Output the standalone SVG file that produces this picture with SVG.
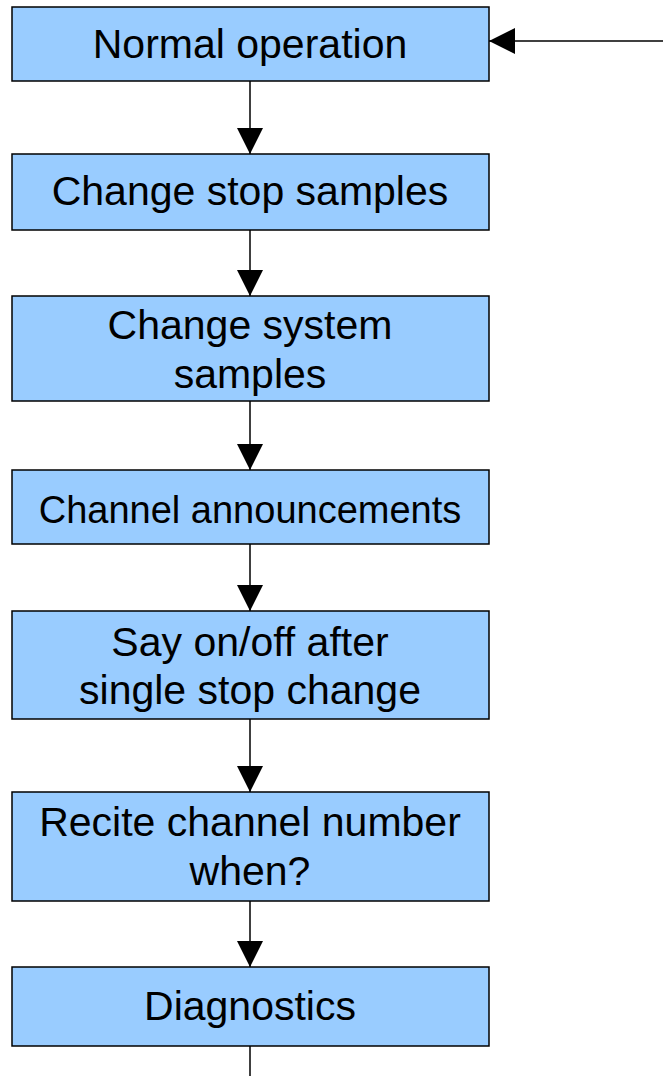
<svg xmlns="http://www.w3.org/2000/svg" width="663" height="1076" viewBox="0 0 663 1076">
<style>
.box{fill:#99ccff;stroke:#000;stroke-width:1.5}
.t{font-family:"Liberation Sans",Arial,sans-serif;font-size:41px;fill:#000;text-anchor:middle}
.c{stroke:#000;stroke-width:1.5;fill:none}
</style>
<defs>
<marker id="ah" viewBox="0 0 26 26" refX="26" refY="13" markerWidth="26" markerHeight="26" markerUnits="userSpaceOnUse" orient="auto">
<path d="M0,0 L26,13 L0,26 Z" fill="#000"/>
</marker>
</defs>
<rect width="663" height="1076" fill="#fff"/>
<g id="connectors">
<line class="c" x1="663" y1="41" x2="489" y2="41" marker-end="url(#ah)"/>
<line class="c" x1="250" y1="81" x2="250" y2="154" marker-end="url(#ah)"/>
<line class="c" x1="250" y1="230" x2="250" y2="296" marker-end="url(#ah)"/>
<line class="c" x1="250" y1="401" x2="250" y2="470" marker-end="url(#ah)"/>
<line class="c" x1="250" y1="544" x2="250" y2="611" marker-end="url(#ah)"/>
<line class="c" x1="250" y1="719" x2="250" y2="792" marker-end="url(#ah)"/>
<line class="c" x1="250" y1="901" x2="250" y2="967" marker-end="url(#ah)"/>
<line class="c" x1="250" y1="1046" x2="250" y2="1076"/>
</g>
<g id="n1"><rect class="box" x="12" y="7" width="477" height="74"/><text class="t" x="250" y="58">Normal operation</text></g>
<g id="n2"><rect class="box" x="12" y="154" width="477" height="76"/><text class="t" x="250" y="205">Change stop samples</text></g>
<g id="n3"><rect class="box" x="12" y="296" width="477" height="105"/><text class="t" x="250" y="339">Change system</text><text class="t" x="250" y="388">samples</text></g>
<g id="n4"><rect class="box" x="12" y="470" width="477" height="74"/><text class="t" x="250" y="523" style="font-size:38px">Channel announcements</text></g>
<g id="n5"><rect class="box" x="12" y="611" width="477" height="108"/><text class="t" x="250" y="656">Say on/off after</text><text class="t" x="250" y="704">single stop change</text></g>
<g id="n6"><rect class="box" x="12" y="792" width="477" height="109"/><text class="t" x="250" y="836">Recite channel number</text><text class="t" x="250" y="885">when?</text></g>
<g id="n7"><rect class="box" x="12" y="967" width="477" height="79"/><text class="t" x="250" y="1020">Diagnostics</text></g>
</svg>
